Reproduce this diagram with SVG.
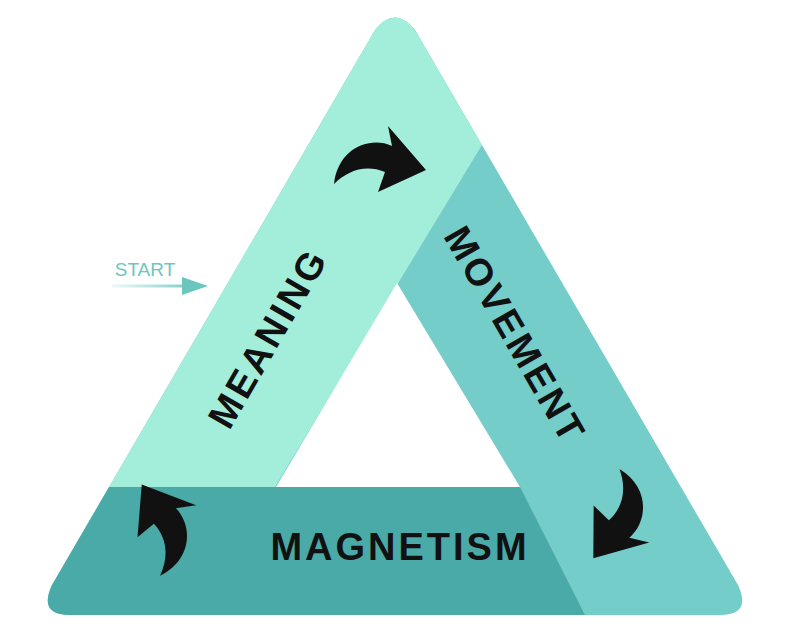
<svg xmlns="http://www.w3.org/2000/svg" width="800" height="642" viewBox="0 0 800 642">
<style>
.lbl{font-family:"Liberation Sans",Arial,sans-serif;font-weight:900;font-size:38px;fill:#111;letter-spacing:3px;text-anchor:middle;dominant-baseline:central}
.arr{fill:#111}
</style>
<defs>
<clipPath id="tri"><path d="M375,30 Q395,5 415,30 L738,585 Q752,615 720,615 L70,615 Q38,615 52,585 Z"/></clipPath>
<path id="ca" d="M-46,22 C-42,-14 -10,-26 12,-16 L8,-36 L46,8 L-2,30 L5,10 C-14,2 -32,8 -46,22 Z"/>
<linearGradient id="sg" gradientUnits="userSpaceOnUse" x1="112" y1="0" x2="200" y2="0"><stop offset="0" stop-color="#7fd0c8" stop-opacity="0.15"/><stop offset="1" stop-color="#6cc6c0"/></linearGradient>
</defs>
<rect width="800" height="642" fill="#fff"/>
<g id="triangle" clip-path="url(#tri)">
<rect x="0" y="0" width="800" height="642" fill="#74cdc9"/>
<polygon points="395,0 485,140 397,285 275,487 100,487 0,642 0,0" fill="#a3eedb"/>
<polygon points="0,487 275,487 520,487 585,615 590,642 0,642" fill="#4aaaa7"/>
<polygon points="397,283 276,487 520,487" fill="#fff"/>
</g>
<g id="start">
<text x="145" y="276" font-family="Liberation Sans,Arial,sans-serif" font-size="19" fill="#6cc6c0" text-anchor="middle">START</text>
<path d="M112,286 L192,286" stroke="url(#sg)" stroke-width="3"/>
<polygon points="182,277 208,286 182,295" fill="#6cc6c0"/>
</g>
<g id="meaning"><text class="lbl" transform="translate(268,338) rotate(-60)">MEANING</text></g>
<g id="movement"><text class="lbl" transform="translate(515,335) rotate(60)">MOVEMENT</text></g>
<g id="magnetism"><text class="lbl" x="400" y="547">MAGNETISM</text></g>
<g id="connectors">
<use href="#ca" class="arr" transform="translate(380,162)"/>
<use href="#ca" class="arr" transform="translate(620,520) rotate(115)"/>
<use href="#ca" class="arr" transform="translate(165,525) scale(-1,1) rotate(-70)"/>
</g>
</svg>
